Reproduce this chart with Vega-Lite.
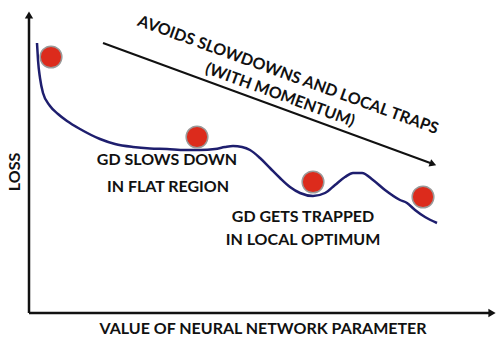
{
  "$schema": "https://vega.github.io/schema/vega-lite/v6.json",
  "width": 497,
  "height": 337,
  "autosize": {"type": "none"},
  "padding": 0,
  "background": "white",
  "config": {"view": {"stroke": null}, "text": {"font": "Lato", "fontWeight": "bold", "fontSize": 16, "color": "#111111"}},
  "datasets": {
    "curve": [
      {"p": 37, "loss": 294}, {"p": 38, "loss": 277}, {"p": 40, "loss": 259}, {"p": 43, "loss": 244},
      {"p": 50, "loss": 231}, {"p": 58, "loss": 223}, {"p": 67, "loss": 216}, {"p": 80, "loss": 208},
      {"p": 100, "loss": 198}, {"p": 115, "loss": 193}, {"p": 133, "loss": 190}, {"p": 150, "loss": 188.5},
      {"p": 167, "loss": 188}, {"p": 185, "loss": 187}, {"p": 200, "loss": 187}, {"p": 215, "loss": 188},
      {"p": 225, "loss": 190}, {"p": 233, "loss": 191}, {"p": 242, "loss": 190}, {"p": 250, "loss": 187},
      {"p": 260, "loss": 179}, {"p": 270, "loss": 169}, {"p": 280, "loss": 159}, {"p": 290, "loss": 150},
      {"p": 300, "loss": 144}, {"p": 313, "loss": 141}, {"p": 325, "loss": 144}, {"p": 335, "loss": 152},
      {"p": 345, "loss": 160}, {"p": 353, "loss": 164}, {"p": 362, "loss": 164}, {"p": 373, "loss": 157},
      {"p": 385, "loss": 147}, {"p": 400, "loss": 137}, {"p": 407, "loss": 134}, {"p": 415, "loss": 127},
      {"p": 425, "loss": 120}, {"p": 437, "loss": 114}
    ],
    "balls": [
      {"p": 51, "loss": 280}, {"p": 197, "loss": 200}, {"p": 313, "loss": 155}, {"p": 423, "loss": 140}
    ],
    "momentum": [
      {"p": 103, "loss": 294}, {"p": 433, "loss": 173}
    ],
    "labels": [
      {"p": 167, "loss": 177, "text": "GD SLOWS DOWN"},
      {"p": 168, "loss": 150, "text": "IN FLAT REGION"},
      {"p": 303, "loss": 120, "text": "GD GETS TRAPPED"},
      {"p": 303, "loss": 97, "text": "IN LOCAL OPTIMUM"}
    ],
    "rotated": [
      {"p": 288, "loss": 262, "text": "AVOIDS SLOWDOWNS AND LOCAL TRAPS"},
      {"p": 280, "loss": 242, "text": "(WITH MOMENTUM)"}
    ]
  },
  "encoding": {
    "x": {"field": "p", "type": "quantitative", "scale": {"domain": [0, 497], "nice": false, "zero": false}, "axis": null},
    "y": {"field": "loss", "type": "quantitative", "scale": {"domain": [0, 337], "nice": false, "zero": false}, "axis": null}
  },
  "layer": [
    {
      "data": {"values": [{"p": 29, "loss": 24, "p2": 29, "loss2": 320}]},
      "mark": {"type": "rule", "strokeWidth": 2.5, "color": "#111111"},
      "encoding": {"x2": {"field": "p2"}, "y2": {"field": "loss2"}}
    },
    {
      "data": {"values": [{"p": 29, "loss": 24, "p2": 490, "loss2": 24}]},
      "mark": {"type": "rule", "strokeWidth": 2.5, "color": "#111111"},
      "encoding": {"x2": {"field": "p2"}, "y2": {"field": "loss2"}}
    },
    {
      "data": {"values": [{"p": 29, "loss": 322}]},
      "mark": {"type": "point", "shape": "triangle-up", "filled": true, "size": 70, "color": "#111111", "opacity": 1}
    },
    {
      "data": {"values": [{"p": 492, "loss": 24}]},
      "mark": {"type": "point", "shape": "triangle-right", "filled": true, "size": 70, "color": "#111111", "opacity": 1}
    },
    {
      "data": {"name": "curve"},
      "mark": {"type": "line", "interpolate": "monotone", "color": "#1e1e6e", "strokeWidth": 2.5}
    },
    {
      "data": {"name": "balls"},
      "mark": {"type": "point", "shape": "circle", "filled": true, "size": 470, "color": "#dc2b1c", "stroke": "#9a9a9a", "strokeWidth": 1.5, "opacity": 1}
    },
    {
      "data": {"name": "momentum"},
      "mark": {"type": "line", "color": "#111111", "strokeWidth": 2}
    },
    {
      "data": {"values": [{"p": 433, "loss": 173}]},
      "mark": {"type": "point", "shape": "triangle-right", "filled": true, "size": 60, "angle": 20, "color": "#111111", "opacity": 1}
    },
    {
      "data": {"name": "labels"},
      "mark": {"type": "text", "align": "center", "baseline": "middle"},
      "encoding": {"text": {"field": "text"}}
    },
    {
      "data": {"name": "rotated"},
      "mark": {"type": "text", "align": "center", "baseline": "middle", "angle": 20},
      "encoding": {"text": {"field": "text"}}
    },
    {
      "data": {"values": [{"p": 263, "loss": 8, "text": "VALUE OF NEURAL NETWORK PARAMETER"}]},
      "mark": {"type": "text", "align": "center", "baseline": "middle"},
      "encoding": {"text": {"field": "text"}}
    },
    {
      "data": {"values": [{"p": 15, "loss": 165, "text": "LOSS"}]},
      "mark": {"type": "text", "align": "center", "baseline": "middle", "angle": 270},
      "encoding": {"text": {"field": "text"}}
    }
  ]
}
